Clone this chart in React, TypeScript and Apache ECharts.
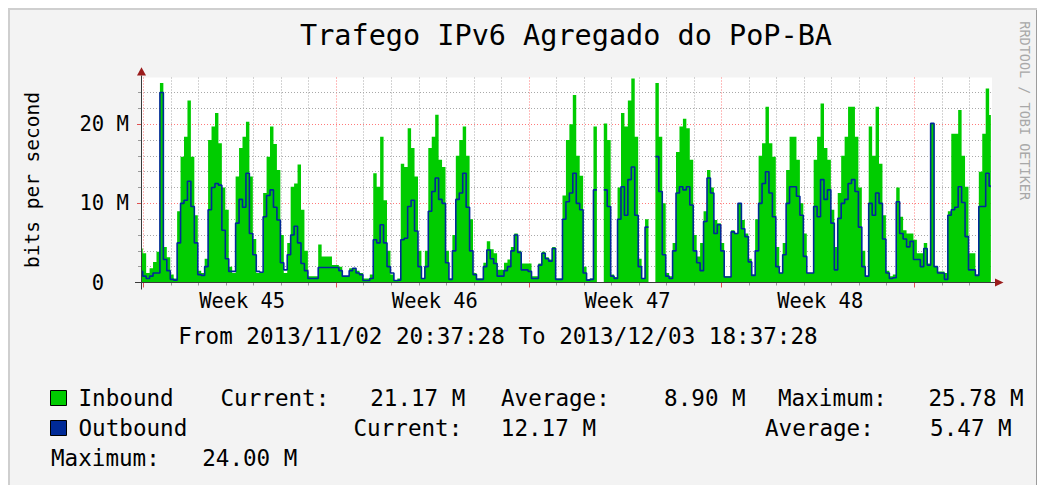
import React, { useEffect, useRef } from "react";
import * as echarts from "echarts";

// ---- data (values in Mbit/s, one sample every 3 hours from 2013/11/02 20:37:28) ----
const STEP_HOURS = 3;
const TOTAL_HOURS = 742;

const inbound: (number | null)[] = [
  4.3, 3.7, 1.2, 1.8, 2.6, 3.9, 25.2, 4.5, 3.2, 1.0, 0.5, 9.0, 15.9, 18.4, 23.0, 15.9, 8.5, 1.5, 1.2, 3.0,
  18.0, 19.7, 21.4, 17.6, 12.0, 9.2, 2.0, 1.2, 13.4, 17.0, 18.4, 20.3, 13.4, 5.5, 1.2, 1.2, 11.3, 15.9, 19.7, 17.5,
  14.2, 6.0, 1.2, 5.0, 12.1, 12.5, 14.9, 9.2, 4.0, 0.8, 0.8, 0.8, 4.8, 3.3, 3.3, 3.3, 2.2, 2.2, 2.0, 0.8,
  0.8, 1.8, 1.8, 1.5, 1.2, 0.5, 0.5, 1.0, 13.8, 12.1, 18.4, 10.4, 4.0, 1.0, 0.3, 0.5, 15.0, 14.6, 19.5, 17.0,
  13.4, 4.0, 0.5, 4.0, 17.0, 18.4, 21.2, 15.5, 14.6, 4.0, 0.5, 6.0, 16.0, 18.0, 19.7, 16.0, 8.0, 1.2, 0.5, 0.5,
  2.5, 5.2, 4.2, 3.7, 1.6, 1.6, 2.5, 2.9, 4.5, 6.2, 4.0, 2.4, 2.4, 2.4, 0.8, 0.8, 2.4, 3.9, 3.2, 2.9,
  4.5, 0.5, 0.5, 11.0, 18.0, 20.0, 23.7, 16.0, 13.5, 2.0, 0.4, 0.5, 19.7, null, null, 20.1, 18.0, 1.0, 0.7, 12.0,
  21.4, 19.7, 23.0, 25.78, 18.4, 3.0, 0.5, 8.0, null, null, 25.2, 18.4, 10.0, 1.2, 0.8, 5.0, 16.5, 19.7, 20.7, 19.5,
  15.5, 6.0, 3.3, 5.0, 9.0, 14.2, 12.0, 7.9, 7.5, 5.0, 0.8, 0.8, 6.6, 6.2, 10.0, 7.9, 6.2, 3.0, 1.0, 8.0,
  16.0, 17.6, 22.2, 17.6, 15.9, 4.5, 1.2, 5.0, 14.2, 18.4, 18.4, 15.5, 10.0, 6.2, 1.2, 1.2, 15.5, 18.4, 22.6, 17.0,
  15.5, 9.2, 4.5, 11.3, 16.0, 18.4, 22.2, 22.2, 18.4, 12.0, 4.0, 0.8, 19.7, 16.0, 22.2, 15.0, 8.5, 1.5, 0.8, 1.0,
  12.0, 8.3, 6.6, 6.2, 6.2, 5.4, 3.7, 3.7, 5.0, 2.4, 20.1, 2.0, 1.4, 1.4, 1.2, 9.0, 18.8, 18.8, 21.8, 16.0,
  12.1, 3.7, 3.7, 1.0, 14.0, 18.8, 24.5, 21.17,
];

const outbound: (number | null)[] = [
  1.4, 0.8, 0.5, 0.8, 1.2, 1.2, 24.0, 2.9, 1.5, 0.4, 0.3, 5.0, 10.0, 10.4, 12.8, 9.6, 5.0, 1.0, 0.9, 2.0,
  9.2, 12.0, 12.5, 12.3, 6.6, 3.0, 1.4, 1.4, 7.5, 10.5, 9.5, 13.8, 6.2, 3.5, 1.4, 1.3, 8.3, 11.0, 11.7, 9.5,
  7.9, 2.5, 1.6, 3.5, 6.0, 7.1, 5.0, 2.4, 1.5, 0.5, 0.5, 0.5, 1.9, 1.9, 1.9, 1.9, 1.9, 1.9, 1.5, 0.8,
  0.8, 1.5, 1.8, 1.2, 1.0, 0.25, 0.25, 0.5, 5.4, 5.0, 7.3, 5.0, 2.0, 1.2, 0.25, 0.3, 5.4, 5.6, 9.6, 10.4,
  6.5, 2.0, 0.5, 2.0, 9.0, 11.5, 13.2, 10.5, 10.0, 2.5, 0.4, 4.0, 10.5, 11.3, 13.8, 9.5, 4.0, 1.0, 0.4, 0.4,
  2.0, 4.1, 3.0, 2.4, 0.8, 0.8, 1.5, 2.0, 4.0, 6.0, 3.8, 1.6, 1.6, 1.4, 0.5, 0.5, 2.2, 3.7, 3.0, 2.7,
  4.3, 0.4, 0.4, 8.0, 10.2, 11.3, 13.8, 10.0, 9.2, 1.2, 0.3, 0.4, 11.7, null, null, 11.7, 9.6, 0.8, 0.5, 8.0,
  12.1, 8.5, 13.0, 14.6, 8.5, 2.0, 0.5, 7.0, null, null, 15.9, 11.5, 3.5, 0.8, 0.5, 4.0, 11.3, 12.1, 11.7, 12.1,
  9.8, 4.0, 2.5, 1.5, 7.7, 13.2, 11.3, 6.2, 7.3, 4.0, 0.7, 0.7, 6.4, 6.2, 10.0, 6.8, 5.8, 2.6, 0.9, 4.0,
  10.0, 12.5, 14.0, 11.3, 8.3, 2.0, 1.2, 3.5, 10.0, 12.1, 12.1, 10.9, 8.5, 3.3, 1.2, 1.2, 9.6, 8.3, 13.0, 10.5,
  11.7, 7.5, 1.6, 8.1, 10.0, 10.5, 12.5, 13.0, 11.5, 7.0, 2.0, 0.8, 10.0, 8.5, 11.3, 10.0, 5.5, 1.2, 0.5, 0.6,
  10.2, 6.2, 5.5, 4.5, 5.2, 2.9, 2.9, 2.0, 4.3, 2.2, 20.1, 2.0, 1.2, 1.2, 0.4, 8.5, 9.2, 9.5, 12.1, 10.1,
  5.8, 1.6, 1.6, 0.9, 9.6, 9.6, 13.8, 12.17,
];

const weekLabels = ["Week 45", "Week 46", "Week 47", "Week 48"];
const yLabelValues = [0, 10, 20];

const TITLE = "Trafego IPv6 Agregado do PoP-BA";
const Y_TITLE = "bits per second";
const PERIOD = "From 2013/11/02 20:37:28 To 2013/12/03 18:37:28";
const WATERMARK = "RRDTOOL / TOBI OETIKER";
const inboundStats = { current: "21.17 M", average: "8.90 M", maximum: "25.78 M" };
const outboundStats = { current: "12.17 M", average: "5.47 M", maximum: "24.00 M" };

// ---- layout ----
const FONT = '"DejaVu Sans Mono", monospace';
const GREEN = "#00cc00";
const BLUE = "#002a97";
const GRID_L = 133;
const GRID_T = 69.5;
const GRID_W = 851;
const GRID_H = 205;
const DAY_OFFSET = 2.2; // hours from start to first local midnight grid line
const Y_MAX = 25.9;

export default function App() {
  const ref = useRef<HTMLDivElement>(null);

  useEffect(() => {
    if (!ref.current) return;
    const chart = echarts.init(ref.current, undefined, { renderer: "svg" });

    const dayHours: number[] = [];
    for (let k = 0; DAY_OFFSET + 24 * k <= TOTAL_HOURS; k++) dayHours.push(DAY_OFFSET + 24 * k);
    const weekHours = dayHours.filter((_, k) => k % 7 === 0);
    const minorDayHours = dayHours.filter((_, k) => k % 7 !== 0);
    const weekLabelHours = weekLabels.map((_, k) => DAY_OFFSET + 86 + 168 * k);

    const grayDot = { color: "#a9a9a9", type: [1, 2] as number[], width: 1 };
    const redDot = { color: "#ff7a7a", type: [1, 2] as number[], width: 1 };

    const markData: any[] = [];
    minorDayHours.forEach((h) => markData.push({ xAxis: h, lineStyle: grayDot }));
    weekHours.forEach((h) => markData.push({ xAxis: h, lineStyle: redDot }));
    for (let v = 2; v < Y_MAX; v += 2) {
      markData.push({ yAxis: v, lineStyle: v % 10 === 0 ? redDot : grayDot });
    }

    const baseBottomY = GRID_T + GRID_H; // 274.5
    const axisColor = "#3a3a3a";
    const arrowColor = "#9b1c1c";

    const txt = (text: string, x: number, y: number, size: number, align = "left", extra: any = {}) => ({
      type: "text",
      x,
      y,
      silent: true,
      ...extra,
      style: {
        text,
        fill: extra.fill || "#000",
        font: `${size}px ${FONT}`,
        textAlign: align,
        textVerticalAlign: "middle",
      },
    });

    const LEG = 22.6;
    const row1 = 389.5;
    const row2 = 420;
    const row3 = 449.5;

    const option: any = {
      animation: false,
      backgroundColor: "transparent",
      grid: {
        left: GRID_L,
        top: GRID_T,
        width: GRID_W,
        height: GRID_H,
        show: true,
        backgroundColor: "#ffffff",
        borderWidth: 0,
      },
      xAxis: [
        {
          type: "value",
          min: 0,
          max: TOTAL_HOURS,
          position: "bottom",
          axisLine: { show: false },
          axisTick: { show: true, customValues: minorDayHours, length: 3, lineStyle: { color: "#9a9a9a" } },
          axisLabel: { show: false },
          splitLine: { show: false },
        },
        {
          type: "value",
          min: 0,
          max: TOTAL_HOURS,
          position: "bottom",
          axisLine: { show: false },
          axisTick: { show: true, customValues: weekHours, length: 5, lineStyle: { color: "#e05050" } },
          axisLabel: {
            show: true,
            customValues: weekLabelHours,
            formatter: (v: number) => {
              const i = weekLabelHours.findIndex((h) => Math.abs(h - v) < 0.01);
              return i >= 0 ? weekLabels[i] : "";
            },
            fontFamily: FONT,
            fontSize: 20.4,
            color: "#000",
            margin: 8,
          },
          splitLine: { show: false },
        },
      ],
      yAxis: [
        {
          type: "value",
          min: 0,
          max: Y_MAX,
          position: "left",
          axisLine: { show: false },
          axisTick: {
            show: true,
            customValues: [2, 4, 6, 8, 12, 14, 16, 18, 22, 24],
            length: 3,
            lineStyle: { color: "#9a9a9a" },
          },
          axisLabel: { show: false },
          splitLine: { show: false },
        },
        {
          type: "value",
          min: 0,
          max: Y_MAX,
          position: "left",
          axisLine: { show: false },
          axisTick: { show: true, customValues: [10, 20], length: 4, lineStyle: { color: "#e05050" } },
          axisLabel: {
            show: true,
            customValues: yLabelValues,
            margin: 12,
            formatter: (v: number) => (v === 0 ? "{z|0}" : `{n|${v} M}`),
            rich: {
              z: { fontFamily: FONT, fontSize: 20.6, color: "#000", padding: [0, 24.8, 0, 0] },
              n: { fontFamily: FONT, fontSize: 20.6, color: "#000" },
            },
            fontFamily: FONT,
            fontSize: 20.6,
            color: "#000",
          },
          splitLine: { show: false },
        },
      ],
      series: [
        {
          type: "line",
          name: "Inbound",
          xAxisIndex: 0,
          yAxisIndex: 0,
          data: inbound.map((v, i) => [i * STEP_HOURS, v]),
          step: "middle",
          symbol: "none",
          showSymbol: false,
          connectNulls: false,
          silent: true,
          z: 3,
          lineStyle: { width: 0, opacity: 0 },
          areaStyle: { color: GREEN, opacity: 1 },
          emphasis: { disabled: true },
          markLine: {
            silent: true,
            symbol: "none",
            z: 1,
            label: { show: false },
            emphasis: { disabled: true },
            animation: false,
            data: markData,
          },
        },
        {
          type: "line",
          name: "Outbound",
          xAxisIndex: 0,
          yAxisIndex: 0,
          data: outbound.map((v, i) => [i * STEP_HOURS, v]),
          step: "middle",
          symbol: "none",
          showSymbol: false,
          connectNulls: false,
          silent: true,
          z: 4,
          lineStyle: { width: 1.6, color: BLUE },
          emphasis: { disabled: true },
        },
      ],
      graphic: [
        // axes lines and arrows
        {
          type: "line",
          silent: true,
          z: 10,
          shape: { x1: GRID_L - 6, y1: baseBottomY, x2: GRID_L + GRID_W + 3, y2: baseBottomY },
          style: { stroke: axisColor, lineWidth: 1 },
        },
        {
          type: "line",
          silent: true,
          z: 10,
          shape: { x1: GRID_L + 0.5, y1: baseBottomY + 7, x2: GRID_L + 0.5, y2: GRID_T - 2 },
          style: { stroke: axisColor, lineWidth: 1 },
        },
        {
          type: "polygon",
          silent: true,
          z: 11,
          shape: {
            points: [
              [GRID_L + GRID_W + 3, baseBottomY - 4],
              [GRID_L + GRID_W + 11.5, baseBottomY],
              [GRID_L + GRID_W + 3, baseBottomY + 4],
            ],
          },
          style: { fill: arrowColor },
        },
        {
          type: "polygon",
          silent: true,
          z: 11,
          shape: {
            points: [
              [GRID_L + 0.5 - 4.5, GRID_T - 2],
              [GRID_L + 0.5, GRID_T - 10.2],
              [GRID_L + 0.5 + 4.5, GRID_T - 2],
            ],
          },
          style: { fill: arrowColor },
        },
        // texts
        txt(TITLE, 558, 27, 28.5, "center"),
        txt(Y_TITLE, 24.5, 172, 19.5, "center", { rotation: Math.PI / 2 }),
        txt(WATERMARK, 1017, 102.7, 13.5, "center", { rotation: -Math.PI / 2, fill: "#a8a8a8" }),
        txt(PERIOD, 490, 328, LEG, "center"),
        // legend
        {
          type: "rect",
          silent: true,
          shape: { x: 42.5, y: 382.5, width: 16, height: 15 },
          style: { fill: GREEN, stroke: "#000", lineWidth: 1 },
        },
        {
          type: "rect",
          silent: true,
          shape: { x: 42.5, y: 412.5, width: 16, height: 15 },
          style: { fill: BLUE, stroke: "#000", lineWidth: 1 },
        },
        txt("Inbound", 70.5, row1, LEG),
        txt("Current:", 212.5, row1, LEG),
        txt(inboundStats.current, 457.4, row1, LEG, "right"),
        txt("Average:", 493, row1, LEG),
        txt(inboundStats.average, 737.7, row1, LEG, "right"),
        txt("Maximum:", 770, row1, LEG),
        txt(inboundStats.maximum, 1015.7, row1, LEG, "right"),
        txt("Outbound", 70.5, row2, LEG),
        txt("Current:", 345.5, row2, LEG),
        txt(outboundStats.current, 588, row2, LEG, "right"),
        txt("Average:", 757, row2, LEG),
        txt(outboundStats.average, 1003.7, row2, LEG, "right"),
        txt("Maximum:", 43, row3, LEG),
        txt(outboundStats.maximum, 289.4, row3, LEG, "right"),
      ],
    };

    chart.setOption(option);
    return () => chart.dispose();
  }, []);

  return (
    <div
      style={{
        width: 1030,
        height: 485,
        background: "#f3f3f3",
        boxShadow: "inset 2px 2px 0 #cfcfcf, inset -2px 0 0 #9c9c9c",
        position: "relative",
      }}
    >
      <div ref={ref} style={{ width: 1030, height: 477 }} />
    </div>
  );
}
